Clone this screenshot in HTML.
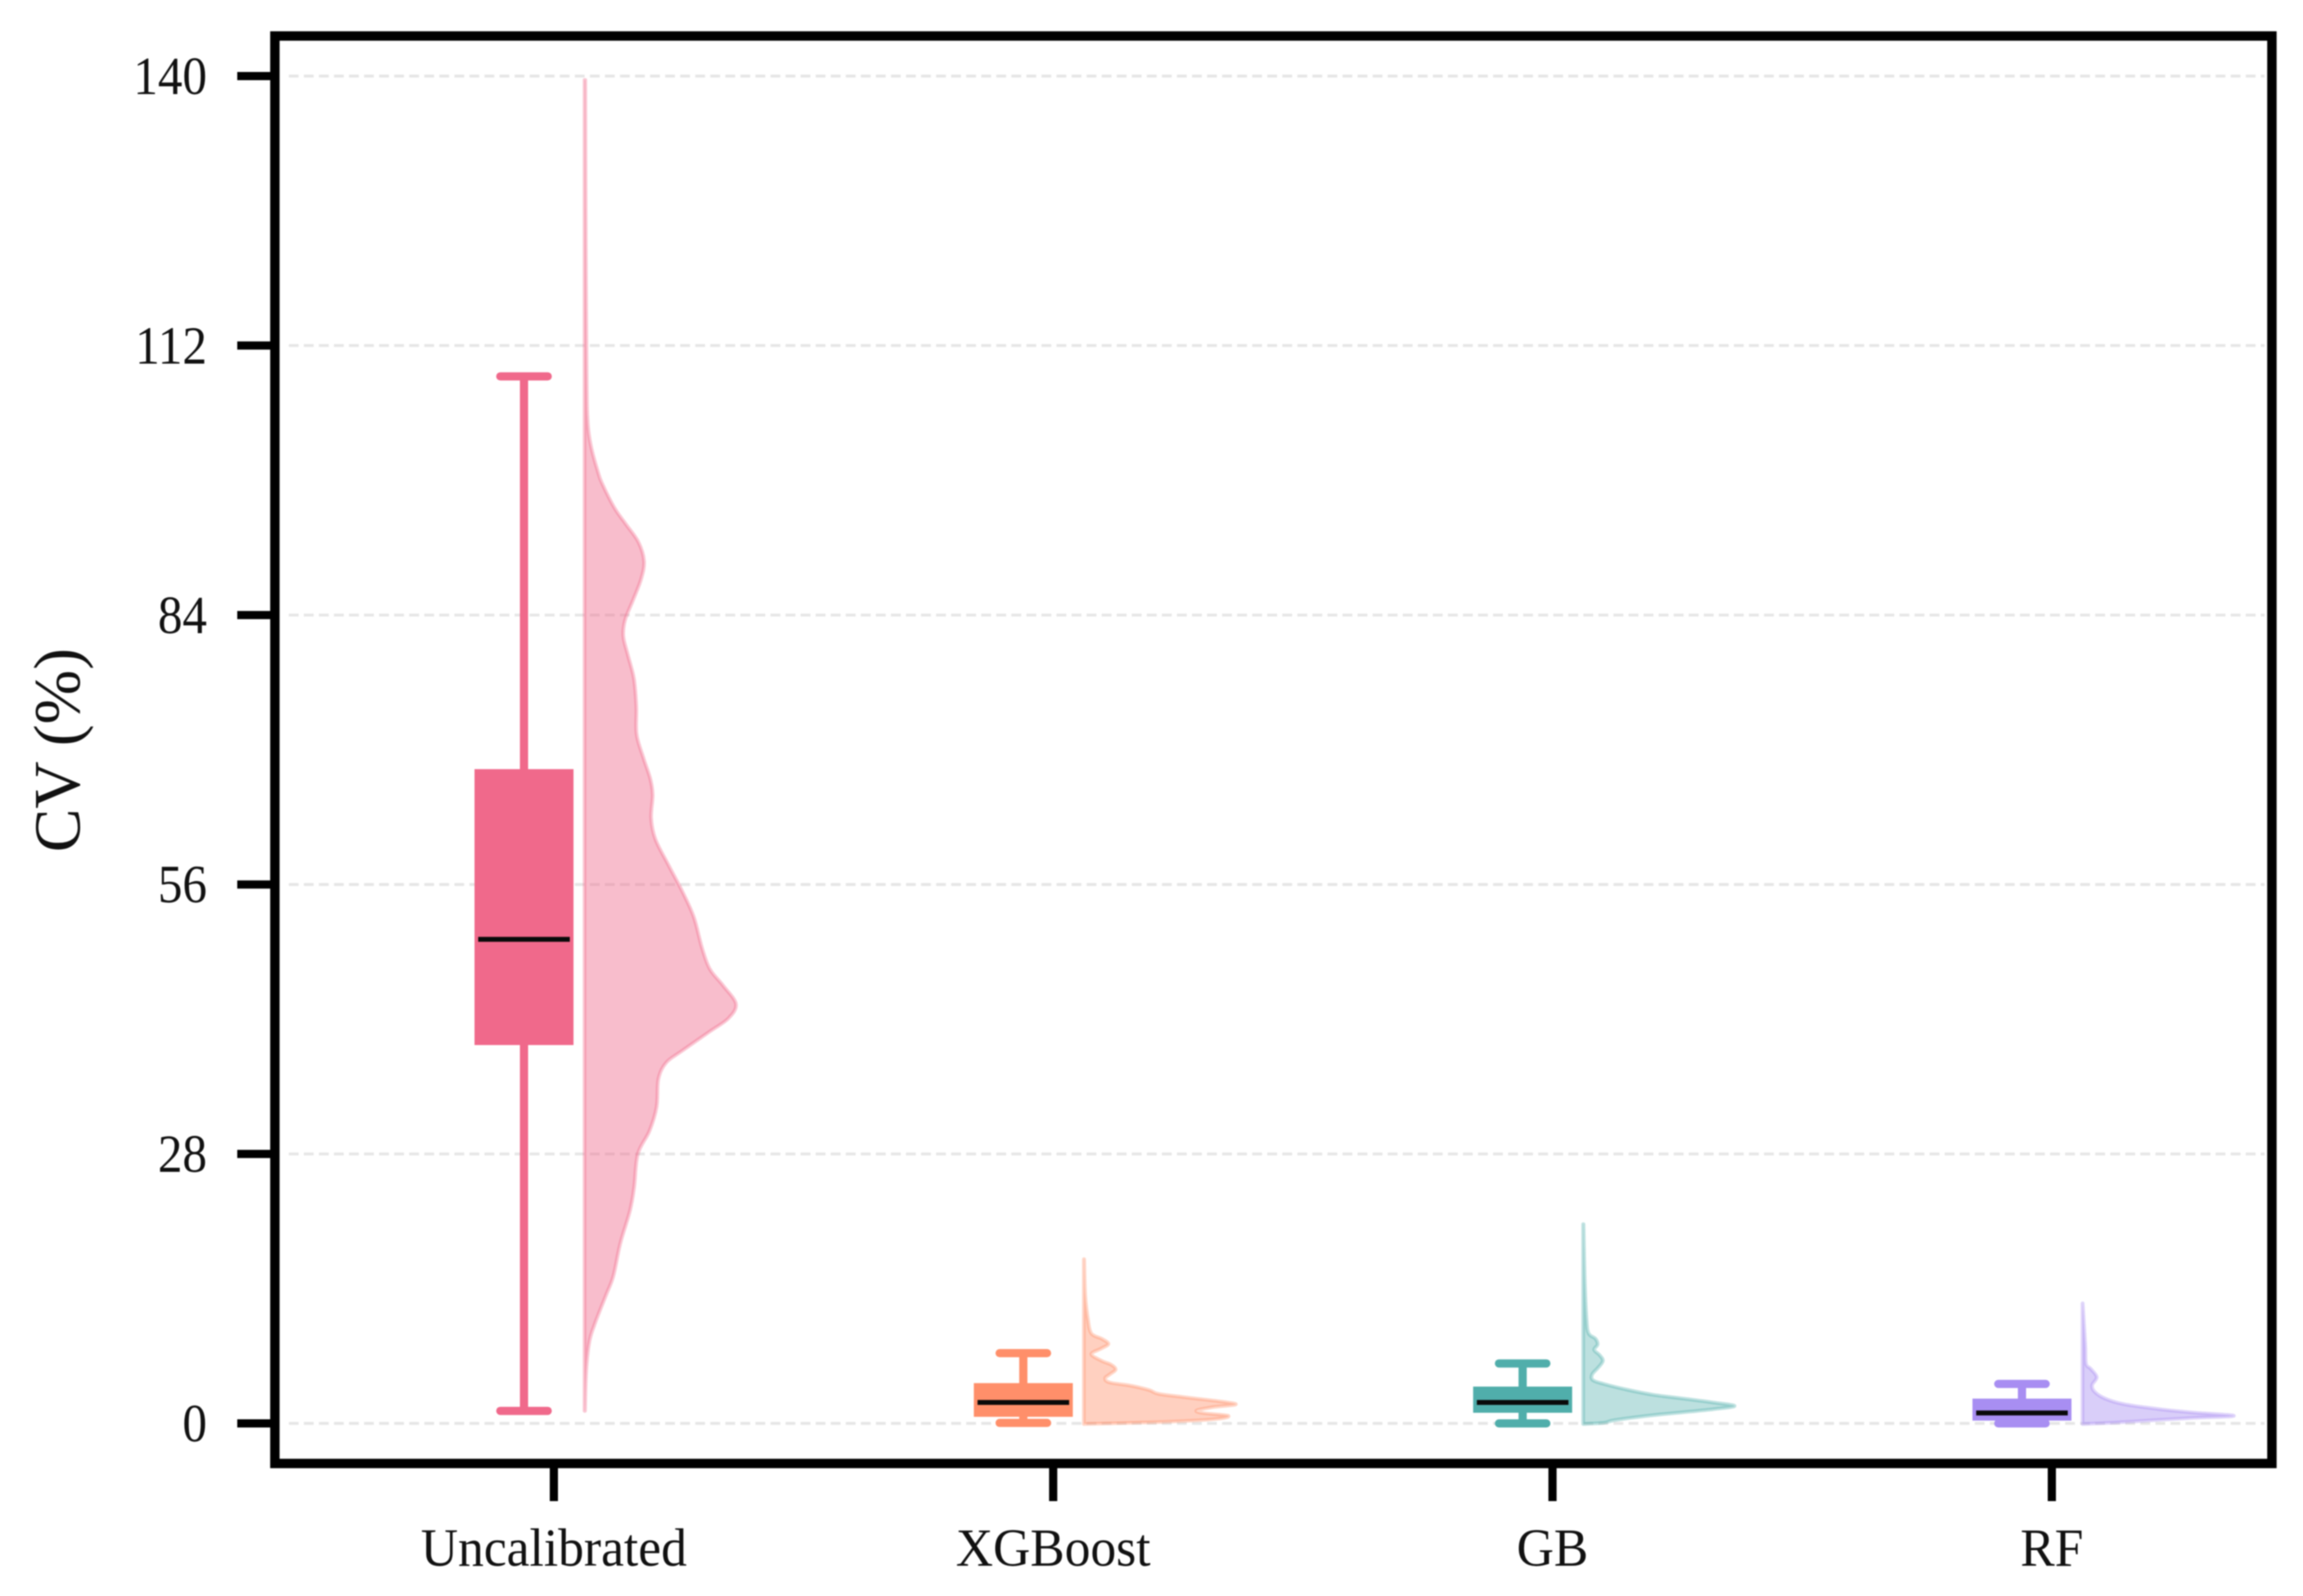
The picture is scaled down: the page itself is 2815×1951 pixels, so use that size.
<!DOCTYPE html>
<html lang="en">
<head>
<meta charset="utf-8">
<title>CV (%) raincloud chart</title>
<style>
  html, body { margin: 0; padding: 0; background: #ffffff; }
  #chart { display: block; width: 2815px; height: 1951px; filter: blur(0.8px); }
  text { font-family: "Liberation Serif", "DejaVu Serif", serif; fill: #111111; }
</style>
</head>
<body>
<svg id="chart" xmlns="http://www.w3.org/2000/svg" width="2815" height="1951" viewBox="0 0 2815 1951"></svg>
<script>
// ---- chart data ----
const categories = ["Uncalibrated", "XGBoost", "GB", "RF"];
const yTicks = [0, 28, 56, 84, 112, 140];
const yAxisLabel = "CV (%)";

const whiskerHigh = [108.8, 7.3, 6.23, 4.1];
const quartile3 = [67.9, 4.1, 3.74, 2.49];
const medians = [50.3, 2.18, 2.18, 1.08];
const quartile1 = [39.4, 0.77, 1.19, 0.37];
const whiskerLow = [1.3, 0.05, 0.0, 0.0];

// density profile of each violin: CV value and relative density (peak = 100)
const uncalibratedCv = [139.6,123.3,108.7,103.8,101.3,98.9,97.7,95.2,93.5,91.6,89.6,87.7,85.5,83.5,81.8,79.9,77.4,74.5,71.6,69.1,67,65.3,62.9,60.7,58,55.3,52.6,49.4,47.2,45.5,43.6,42.1,40.7,38.7,37.5,35.8,32.9,30.4,28,24.6,22.1,18.7,15.3,13.3,10.4,8.5,5.5,1.3];
const uncalibratedDensity = [0.5,0.8,1.4,2.2,4.6,8.8,11.5,19.5,27,35.5,39.3,37.3,31.9,26.8,25.6,28.5,32.6,34.2,34.4,39,43.4,45,44,46.8,55.5,64.5,72.2,77.6,82.8,91.5,100,95.1,82.5,64.3,54,48.8,47.6,42.9,35.2,32.8,30,23.6,19,14.1,6.9,3.2,1.1,0.3];

const xgboostCv = [17.06,13.3,10.8,9.35,8.8,8.27,7.8,7.2,6.5,6.1,5.6,5.1,4.68,4.25,3.9,3.46,3.06,2.7,2.04,1.7,1.36,1.08,0.79,0.43,0.14,-0.06];
const xgboostDensity = [0.2,0.9,2.7,4.9,11.7,16.2,11.7,4.9,11.7,18,21,17.1,14,17.1,31.5,43.2,49.5,67.5,100,85.5,74.7,78.3,95.4,85.5,49.5,0];

const gbCv = [20.7,15,10.8,9.35,8.8,8.2,7.65,7.1,6.5,5.8,5.1,4.5,4.1,3.54,2.98,2.55,2.18,1.81,1.47,1.13,0.79,0.34,0.06,-0.06];
const gbDensity = [0.2,1,2.2,3.6,8.1,9.5,7.2,10.8,13,9.9,5.9,6.3,13.5,27.9,45.9,67.5,85.5,100,85.5,63.9,42.3,20.7,13.5,0];

const rfCv = [12.47,8.2,6.2,5.67,4.8,3.97,3.26,2.55,1.98,1.47,1.13,0.79,0.57,0.34,0.06,-0.06];
const rfDensity = [0.1,1.8,2.3,5.4,9.4,6.3,8.1,15.3,27.9,51.3,72.9,100,72.9,47.7,18.9,0];

const violinCv = [uncalibratedCv, xgboostCv, gbCv, rfCv];
const violinDensity = [uncalibratedDensity, xgboostDensity, gbDensity, rfDensity];

// ---- styling ----
const seriesColors = ["#f0698b", "#ff8f6a", "#50aeab", "#a88ef2"];
const violinFillOpacity = [0.44, 0.42, 0.38, 0.43];
const seriesSlugs = ["uncalibrated", "xgboost", "gb", "rf"];

// ---- axis functions ----
function yScale(v) { return 1740 - v * 11.764; }
function xScale(i) { return 677 + i * 610.33; }
function densityScale(d) { return d * 1.85; }

const svgNS = "http://www.w3.org/2000/svg";
const root = document.getElementById("chart");

function make(tag, attrs, parent) {
  const el = document.createElementNS(svgNS, tag);
  for (const k in attrs) el.setAttribute(k, attrs[k]);
  (parent || root).appendChild(el);
  return el;
}

function smoothPath(pts) {
  let d = "M" + pts[0][0].toFixed(2) + " " + pts[0][1].toFixed(2);
  for (let i = 0; i < pts.length - 1; i++) {
    const p0 = pts[Math.max(i - 1, 0)], p1 = pts[i], p2 = pts[i + 1], p3 = pts[Math.min(i + 2, pts.length - 1)];
    const c1x = p1[0] + (p2[0] - p0[0]) / 6, c1y = p1[1] + (p2[1] - p0[1]) / 6;
    const c2x = p2[0] - (p3[0] - p1[0]) / 6, c2y = p2[1] - (p3[1] - p1[1]) / 6;
    d += "C" + c1x.toFixed(2) + " " + c1y.toFixed(2) + " " + c2x.toFixed(2) + " " + c2y.toFixed(2) + " " + p2[0].toFixed(2) + " " + p2[1].toFixed(2);
  }
  return d;
}

// white background
const bg = make("rect", { x: 0, y: 0, width: 2815, height: 1951, fill: "#ffffff" });



// horizontal dashed grid lines
yTicks.forEach(function (t) {
  const g = make("line", { x1: 353, x2: 2768, y1: yScale(t), y2: yScale(t), stroke: "#e6e6e6", "stroke-width": 3.5, "stroke-dasharray": "12 6.4" });
  
  
});

// series: half violin + box plot
categories.forEach(function (name, i) {
  const color = seriesColors[i];
  const cx = xScale(i);
  const boxX = cx - 36.5, baseX = cx + 37.5;

  const group = make("g", {});
  
  

  const pts = violinCv[i].map(function (v, k) {
    return [baseX + densityScale(violinDensity[i][k]), yScale(v)];
  });
  const first = pts[0], last = pts[pts.length - 1];
  const outline = smoothPath(pts) + "L" + baseX + " " + last[1].toFixed(2) + "L" + baseX + " " + first[1].toFixed(2) + "Z";
  const violin = make("path", { d: outline, fill: color, "fill-opacity": violinFillOpacity[i], stroke: color, "stroke-opacity": 0.36, "stroke-width": 4.5, "stroke-linejoin": "round" }, group);
  
  

  const whisker = make("line", { x1: boxX, x2: boxX, y1: yScale(whiskerHigh[i]), y2: yScale(whiskerLow[i]), stroke: color, "stroke-width": 10 }, group);
  
  

  const capTop = make("line", { x1: boxX - 29, x2: boxX + 29, y1: yScale(whiskerHigh[i]), y2: yScale(whiskerHigh[i]), stroke: color, "stroke-width": 10, "stroke-linecap": "round" }, group);
  
  

  const capBottom = make("line", { x1: boxX - 29, x2: boxX + 29, y1: yScale(whiskerLow[i]), y2: yScale(whiskerLow[i]), stroke: color, "stroke-width": 10, "stroke-linecap": "round" }, group);
  
  

  const box = make("rect", { x: boxX - 59.5, width: 119, y: yScale(quartile3[i]), height: yScale(quartile1[i]) - yScale(quartile3[i]), fill: color, stroke: color, "stroke-width": 2 }, group);
  
  

  const medianLine = make("line", { x1: boxX - 56, x2: boxX + 56, y1: yScale(medians[i]), y2: yScale(medians[i]), stroke: "#0a0a0a", "stroke-width": 6 }, group);
  
  
});

// plot frame
const frame = make("rect", { x: 336, y: 44, width: 2441, height: 1745, fill: "none", stroke: "#000000", "stroke-width": 11.5 });



// y axis ticks + labels
yTicks.forEach(function (t) {
  const tick = make("line", { x1: 290, x2: 332, y1: yScale(t), y2: yScale(t), stroke: "#000000", "stroke-width": 10, "stroke-linecap": "butt" });
  
  

  const label = make("text", { transform: "translate(253 " + (yScale(t) + 22) + ") scale(1 1.09)", "text-anchor": "end", "font-size": 60 });
  label.textContent = String(t);
  
  
});

// x axis ticks + labels
categories.forEach(function (name, i) {
  const tick = make("line", { x1: xScale(i), x2: xScale(i), y1: 1794, y2: 1835, stroke: "#000000", "stroke-width": 10 });
  
  

  const label = make("text", { transform: "translate(" + xScale(i) + " 1914) scale(1 1.05)", "text-anchor": "middle", "font-size": 63 });
  label.textContent = name;
  
  
});

// y axis title
const yTitle = make("text", { x: 0, y: 0, transform: "translate(97 917) rotate(-90)", "text-anchor": "middle", "font-size": 80 });
yTitle.textContent = yAxisLabel;


</script>
</body>
</html>
